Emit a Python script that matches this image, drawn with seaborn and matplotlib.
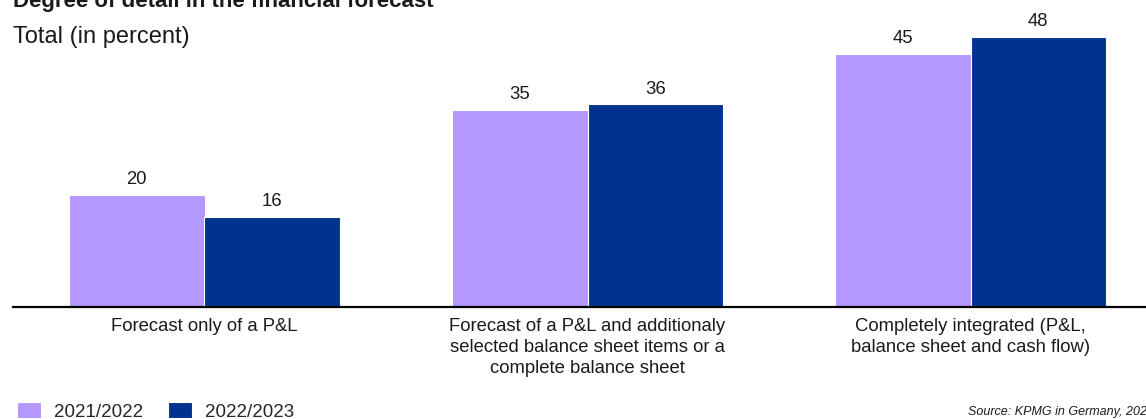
import matplotlib
matplotlib.use("Agg")
import matplotlib.pyplot as plt
import seaborn as sns
import pandas as pd

# Data
categories = [
    "Forecast only of a P&L",
    "Forecast of a P&L and additionaly\nselected balance sheet items or a\ncomplete balance sheet",
    "Completely integrated (P&L,\nbalance sheet and cash flow)",
]
periods = ["2021/2022", "2022/2023"]
values_2021_2022 = [20, 35, 45]
values_2022_2023 = [16, 36, 48]
colors = ["#B497FF", "#00338D"]

df = pd.DataFrame({
    "category": categories * 2,
    "period": [periods[0]] * 3 + [periods[1]] * 3,
    "value": values_2021_2022 + values_2022_2023,
})

sns.set_theme(style="white")
plt.rcParams["font.family"] = ["Liberation Sans", "DejaVu Sans"]

W, H = 1146, 419
fig = plt.figure(figsize=(W / 100, H / 100), dpi=100)

ymax = 54
px_per_unit = 5.625
ax_left, ax_right = 13, 1162
ax_bottom = H - 307
ax = fig.add_axes([ax_left / W, ax_bottom / H, (ax_right - ax_left) / W,
                   ymax * px_per_unit / H])

sns.barplot(data=df, x="category", y="value", hue="period", palette=colors,
            width=0.708, edgecolor="white", linewidth=0.8, saturation=1,
            ax=ax)

ax.set_ylim(0, ymax)
ax.set_xlim(-0.5, 2.5)
for c in ax.containers:
    ax.bar_label(c, fmt="%d", padding=5, fontsize=13.3, color="#1a1a1a")

ax.set_xlabel("")
ax.set_ylabel("")
ax.set_yticks([])
ax.tick_params(axis="x", length=0, pad=8, labelsize=13.3, colors="#1a1a1a")
for lbl in ax.get_xticklabels():
    lbl.set_linespacing(1.3)
for side in ["top", "right", "left"]:
    ax.spines[side].set_visible(False)
ax.spines["bottom"].set_color("black")
ax.spines["bottom"].set_linewidth(1.6)

sns.move_legend(ax, loc="lower left", bbox_to_anchor=(17 / W, -0.004),
                bbox_transform=fig.transFigure, ncol=2, frameon=False,
                title=None, fontsize=13.5, handlelength=1.3, handleheight=0.92,
                handletextpad=0.65, columnspacing=1.35, borderpad=0,
                borderaxespad=0)

fig.text(13 / W, 1 - 7 / H, "Degree of detail in the financial forecast",
         fontsize=16, fontweight="bold", va="baseline", ha="left",
         color="#1a1a1a")
fig.text(13 / W, 1 - 43 / H, "Total (in percent)", fontsize=17,
         va="baseline", ha="left", color="#1a1a1a")
fig.text(968 / W, 1 - 415 / H, "Source: KPMG in Germany, 2023",
         fontsize=9, style="italic", va="baseline", ha="left",
         color="#1a1a1a")

fig.savefig("out.png", dpi=100)
